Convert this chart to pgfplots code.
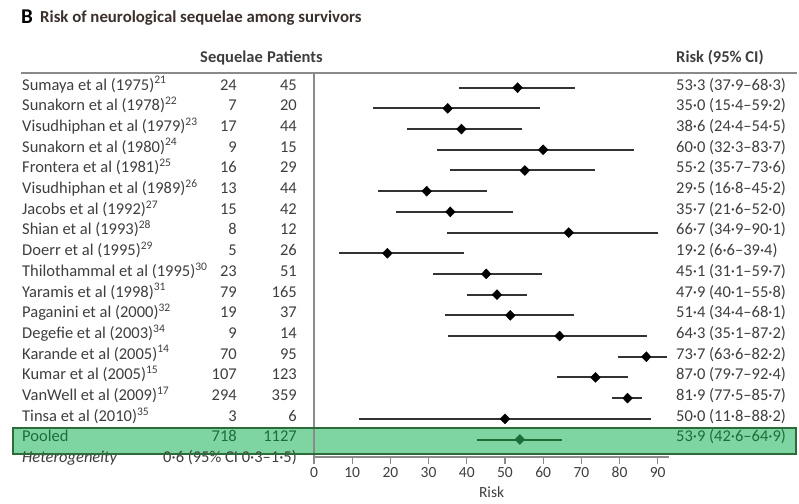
\documentclass[border=0pt]{standalone}
\usepackage{pgfplots}
\pgfplotsset{compat=1.18}
\usepackage{pgfplotstable}
\usepackage{fontspec}
\setmainfont{Carlito}
\definecolor{txt}{HTML}{3E3E3E}
\definecolor{ttl}{HTML}{3A302C}
\definecolor{rule}{HTML}{8A8A8A}
\definecolor{boxfill}{HTML}{7FD5A2}
\definecolor{boxdraw}{HTML}{2C6B3A}
\definecolor{pgreen}{HTML}{1C6E38}
\definecolor{cil}{HTML}{333333}

\pgfplotstableread{
row est lo hi
1 53.3 37.9 68.3
2 35.0 15.4 59.2
3 38.6 24.4 54.5
4 60.0 32.3 83.7
5 55.2 35.7 73.6
6 29.5 16.8 45.2
7 35.7 21.6 52.0
8 66.7 34.9 90.1
9 19.2 6.6 39.4
10 45.1 31.1 59.7
11 47.9 40.1 55.8
12 51.4 34.4 68.1
13 64.3 35.1 87.2
14 87.0 79.7 92.4
15 73.7 63.6 82.2
16 82.1 78.1 85.9
17 50.0 11.8 88.2
}\studies

\pgfplotstableread{
row est lo hi
18 53.9 42.6 64.9
}\pooled

\newcommand\bodyfont{\fontsize{16.5}{18}\selectfont}
\begin{document}
\begin{tikzpicture}
\useasboundingbox (0pt,0pt) rectangle (799pt,-503pt);
% pooled highlight box
\fill[boxfill] (13pt,-427.5pt) rectangle (796pt,-454pt);
% title
\node[anchor=base west, text=black, inner sep=0pt, font=\fontsize{21}{23}\selectfont\bfseries] at (21pt,-24pt) {B};
\node[anchor=base west, text=ttl, inner sep=0pt, font=\fontsize{16.8}{18}\selectfont\bfseries] at (40pt,-23pt) {Risk of neurological sequelae among survivors};
% headers
\node[anchor=base west, text=txt, inner sep=0pt, font=\fontsize{16.5}{18}\selectfont\bfseries] at (200pt,-62pt) {Sequelae};
\node[anchor=base west, text=txt, inner sep=0pt, font=\fontsize{16.5}{18}\selectfont\bfseries] at (267pt,-62pt) {Patients};
\node[anchor=base west, text=txt, inner sep=0pt, font=\fontsize{16.5}{18}\selectfont\bfseries] at (676pt,-62pt) {Risk (95\% CI)};
\draw[rule, line width=1.6pt] (21pt,-73pt) -- (797pt,-73pt);
% rows
\foreach \i/\nm/\s/\p/\r in {
1/{Sumaya et al (1975)\textsuperscript{21}}/24/45/{53·3 (37·9–68·3)},
2/{Sunakorn et al (1978)\textsuperscript{22}}/7/20/{35·0 (15·4–59·2)},
3/{Visudhiphan et al (1979)\textsuperscript{23}}/17/44/{38·6 (24·4–54·5)},
4/{Sunakorn et al (1980)\textsuperscript{24}}/9/15/{60·0 (32·3–83·7)},
5/{Frontera et al (1981)\textsuperscript{25}}/16/29/{55·2 (35·7–73·6)},
6/{Visudhiphan et al (1989)\textsuperscript{26}}/13/44/{29·5 (16·8–45·2)},
7/{Jacobs et al (1992)\textsuperscript{27}}/15/42/{35·7 (21·6–52·0)},
8/{Shian et al (1993)\textsuperscript{28}}/8/12/{66·7 (34·9–90·1)},
9/{Doerr et al (1995)\textsuperscript{29}}/5/26/{19·2 (6·6–39·4)},
10/{Thilothammal et al (1995)\textsuperscript{30}}/23/51/{45·1 (31·1–59·7)},
11/{Yaramis et al (1998)\textsuperscript{31}}/79/165/{47·9 (40·1–55·8)},
12/{Paganini et al (2000)\textsuperscript{32}}/19/37/{51·4 (34·4–68·1)},
13/{Degefie et al (2003)\textsuperscript{34}}/9/14/{64·3 (35·1–87·2)},
14/{Karande et al (2005)\textsuperscript{14}}/70/95/{73·7 (63·6–82·2)},
15/{Kumar et al (2005)\textsuperscript{15}}/107/123/{87·0 (79·7–92·4)},
16/{VanWell et al (2009)\textsuperscript{17}}/294/359/{81·9 (77·5–85·7)},
17/{Tinsa et al (2010)\textsuperscript{35}}/3/6/{50·0 (11·8–88·2)}}{
  \pgfmathsetmacro\yy{-(87.7+(\i-1)*20.7)}
  \node[anchor=mid west, text=txt, inner sep=0pt, font=\bodyfont] at (22pt,\yy pt) {\nm};
  \node[anchor=mid east, text=txt, inner sep=0pt, font=\bodyfont] at (237pt,\yy pt) {\s};
  \node[anchor=mid east, text=txt, inner sep=0pt, font=\bodyfont] at (297pt,\yy pt) {\p};
  \node[anchor=mid west, text=txt, inner sep=0pt, font=\bodyfont] at (676pt,\yy pt) {\r};
}
% pooled row
\node[anchor=mid west, text=pgreen, inner sep=0pt, font=\bodyfont] at (22pt,-439.6pt) {Pooled};
\node[anchor=mid east, text=pgreen, inner sep=0pt, font=\bodyfont] at (237pt,-439.6pt) {718};
\node[anchor=mid east, text=pgreen, inner sep=0pt, font=\bodyfont] at (297pt,-439.6pt) {1127};
\node[anchor=mid west, text=pgreen, inner sep=0pt, font=\bodyfont] at (676pt,-439.6pt) {53·9 (42·6–64·9)};
% heterogeneity
\node[anchor=mid west, text=txt, inner sep=0pt, font=\bodyfont\itshape] at (22pt,-460.5pt) {Heterogeneity};
\node[anchor=mid east, text=txt, inner sep=0pt, font=\bodyfont] at (297pt,-460.5pt) {0·6 (95\% CI 0·3–1·5)};

\begin{axis}[
  at={(314pt,-456.7pt)}, anchor=south west,
  scale only axis, width=355.2pt, height=383.7pt,
  xmin=0, xmax=93, ymin=-18.83, ymax=-0.29,
  axis lines=left, axis line style={-, rule, line width=1.6pt},
  xtick={0,10,...,90}, ytick=\empty,
  tick align=outside, major tick length=7pt,
  tick style={rule, line width=1.2pt},
  /pgf/number format/assume math mode=true,
  tick label style={font=\fontsize{15.5}{17}\selectfont, text=txt},
  xlabel={Risk}, xlabel style={font=\fontsize{15.5}{17}\selectfont, text=txt, yshift=-2pt},
  clip=false,
]
\draw[boxdraw, line width=2pt] (axis cs:-78.8,-17.42) rectangle (axis cs:126.2,-18.70);
\addplot[only marks, mark=diamond*, mark size=5pt, mark options={fill=black, draw=black, xscale=1.3},
  error bars/.cd, x dir=both, x explicit, error mark=none,
  error bar style={cil, line width=2pt}]
  table[x=est, y expr=-\thisrow{row},
        x error plus expr=\thisrow{hi}-\thisrow{est},
        x error minus expr=\thisrow{est}-\thisrow{lo}] {\studies};
\addplot[only marks, mark=diamond*, mark size=5pt, mark options={fill=pgreen, draw=pgreen, xscale=1.3},
  error bars/.cd, x dir=both, x explicit, error mark=none,
  error bar style={pgreen, line width=2pt}]
  table[x=est, y expr=-\thisrow{row},
        x error plus expr=\thisrow{hi}-\thisrow{est},
        x error minus expr=\thisrow{est}-\thisrow{lo}] {\pooled};
\end{axis}
\end{tikzpicture}
\end{document}
